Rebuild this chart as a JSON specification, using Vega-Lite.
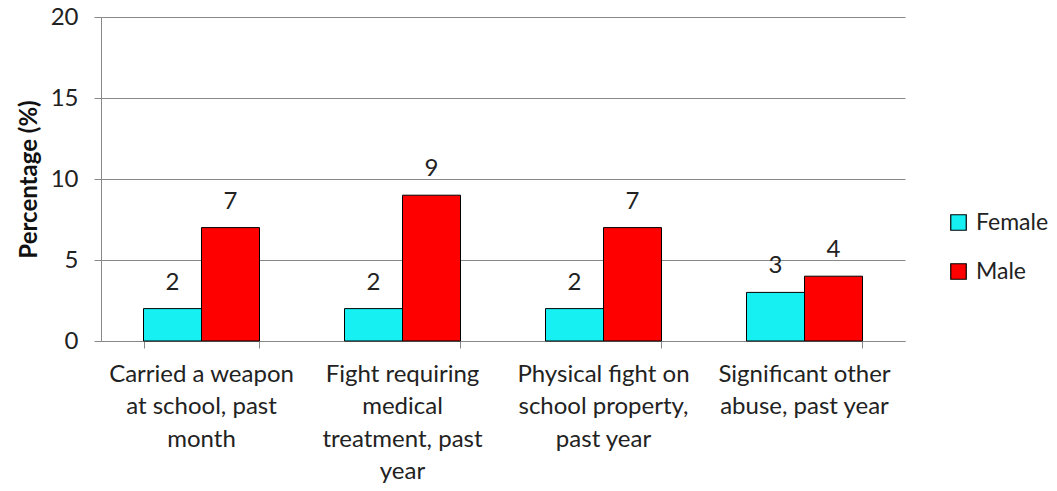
{
  "$schema": "https://vega.github.io/schema/vega-lite/v6.json",
  "width": 804,
  "height": 324,
  "autosize": {"type": "none"},
  "padding": {"left": 101, "top": 17, "right": 152, "bottom": 150},
  "background": "white",
  "config": {
    "font": "Lato",
    "view": {"stroke": null}
  },
  "data": {
    "values": [
      {"category": "Carried a weapon at school, past month", "sex": "Female", "value": 2},
      {"category": "Carried a weapon at school, past month", "sex": "Male", "value": 7},
      {"category": "Fight requiring medical treatment, past year", "sex": "Female", "value": 2},
      {"category": "Fight requiring medical treatment, past year", "sex": "Male", "value": 9},
      {"category": "Physical fight on school property, past year", "sex": "Female", "value": 2},
      {"category": "Physical fight on school property, past year", "sex": "Male", "value": 7},
      {"category": "Significant other abuse, past year", "sex": "Female", "value": 3},
      {"category": "Significant other abuse, past year", "sex": "Male", "value": 4}
    ]
  },
  "encoding": {
    "xOffset": {"field": "sex", "type": "nominal", "scale": {"paddingInner": 0, "paddingOuter": 0}},
    "y": {
      "field": "value",
      "type": "quantitative",
      "scale": {"domain": [0, 20], "nice": false},
      "axis": {
        "title": "Percentage (%)",
        "titleFont": "Lato",
        "titleFontSize": 24,
        "titleFontWeight": "bold",
        "titleColor": "#111111",
        "titlePadding": 9,
        "values": [0, 5, 10, 15, 20],
        "labelFont": "Lato",
        "labelFontSize": 24,
        "labelColor": "#222222",
        "labelPadding": 16,
        "tickSize": 7,
        "tickColor": "#888888",
        "domainColor": "#888888",
        "grid": true,
        "gridColor": "#888888"
      }
    }
  },
  "resolve": {"axis": {"x": "independent"}},
  "layer": [
    {
      "mark": {"type": "bar", "stroke": "#000000", "strokeWidth": 1},
      "encoding": {
        "x": {
          "field": "category",
          "type": "nominal",
          "sort": null,
          "scale": {"paddingInner": 0.423, "paddingOuter": 0.2115},
          "axis": {
            "orient": "bottom",
            "title": null,
            "labels": false,
            "tickBand": "extent",
            "tickSize": 7,
            "tickColor": "#888888",
            "domainColor": "#888888"
          }
        },
        "color": {
          "field": "sex",
          "type": "nominal",
          "scale": {"domain": ["Female", "Male"], "range": ["#16F0F3", "#FF0000"]},
          "legend": {
            "title": null,
            "orient": "none",
            "legendX": 846,
            "legendY": 194,
            "symbolType": "square",
            "symbolSize": 240,
            "symbolStrokeColor": "#000000",
            "symbolStrokeWidth": 1.2,
            "symbolOpacity": 1,
            "labelFont": "Lato",
            "labelFontSize": 23,
            "labelColor": "#222222",
            "labelOffset": 6,
            "rowPadding": 25
          }
        }
      }
    },
    {
      "mark": {"type": "text", "baseline": "alphabetic", "dy": -19, "fontSize": 24, "font": "Lato", "color": "#222222"},
      "encoding": {
        "x": {
          "field": "category",
          "type": "nominal",
          "sort": null,
          "scale": {"paddingInner": 0.423, "paddingOuter": 0.2115},
          "axis": {
            "orient": "bottom",
            "title": null,
            "ticks": false,
            "domain": false,
            "labelAngle": 0,
            "labelFont": "Lato",
            "labelFontSize": 24,
            "labelColor": "#222222",
            "labelPadding": 21,
            "labelLineHeight": 32.5,
            "labelBaseline": "top",
            "labelLimit": 220,
            "labelExpr": "datum.label == 'Carried a weapon at school, past month' ? ['Carried a weapon', 'at school, past', 'month'] : datum.label == 'Fight requiring medical treatment, past year' ? ['Fight requiring', 'medical', 'treatment, past', 'year'] : datum.label == 'Physical fight on school property, past year' ? ['Physical fight on', 'school property,', 'past year'] : ['Significant other', 'abuse, past year']"
          }
        },
        "text": {"field": "value", "type": "quantitative"}
      }
    }
  ]
}
